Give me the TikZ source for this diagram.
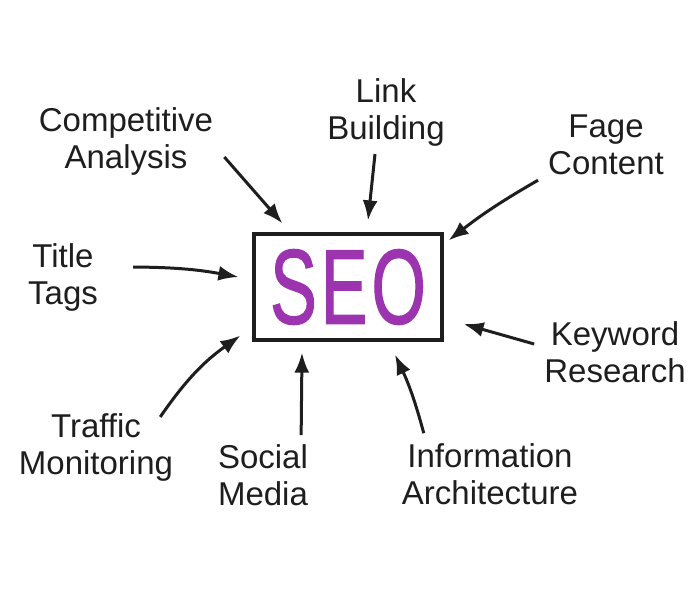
\documentclass[tikz,border=0pt]{standalone}
\usepackage{fontspec}
\setmainfont{Liberation Sans}
\newfontfamily\seofont[FakeBold=1.5]{Liberation Sans}
\usetikzlibrary{arrows.meta}
\definecolor{seolila}{RGB}{156,52,176}
\definecolor{stift}{RGB}{30,30,30}
\tikzset{
  begriff/.style={align=center,inner sep=0pt,text=stift,font=\fontsize{33}{37}\selectfont},
  pfeil/.style={line width=3pt,draw=stift,-{Latex[length=20pt,width=15pt]}}
}
\newcommand{\seobuchst}[1]{\scalebox{0.66}[1]{#1}}
\begin{document}
\begin{tikzpicture}[x=1pt,y=-1pt]
\useasboundingbox[fill=white] (0,0) rectangle (700,600);

% Kasten
\node[draw=stift,line width=3.2pt,minimum width=188pt,minimum height=106pt,text=seolila,font=\fontsize{106}{106}\seofont] (seo) at (348,287) {\seobuchst{S}\hspace{4pt}\seobuchst{E}\hspace{4pt}\seobuchst{O}};

% Begriffe
\node[begriff] (comp) at (126,141) {Competitive\\Analysis};
\node[begriff] (link) at (386,112) {Link\\Building};
\node[begriff] (fage) at (606,145) {Fage\\Content};
\node[begriff] (title) at (63,277) {Title\\Tags};
\node[begriff] (keyw) at (615,352) {Keyword\\Research};
\node[begriff] (traffic) at (96,447) {Traffic\\Monitoring};
\node[begriff] (social) at (263,475) {Social\\Media};
\node[begriff] (info) at (490,474) {Information\\Architecture};

% Koordinaten
\coordinate (tcomp) at ([shift={(30,-9)}]seo.north west);
\coordinate (tlink) at ([shift={(20,-12)}]seo.north);
\coordinate (tfage) at ([shift={(5,8)}]seo.north east);
\coordinate (ttitle) at ([shift={(-14,-10)}]seo.west);
\coordinate (tkeyw) at ([shift={(20,37)}]seo.east);
\coordinate (ttraffic) at ([shift={(-12,-6)}]seo.south west);
\coordinate (tsocial) at ([shift={(-46,11)}]seo.south);
\coordinate (tinfo) at ([shift={(47,13)}]seo.south);

% Pfeile
\draw[pfeil] ([shift={(11,16)}]comp.east) -- (tcomp);
\draw[pfeil] ([shift={(-11,8)}]link.south) -- (tlink);
\draw[pfeil] ([shift={(-10,5)}]fage.south west) to[bend right=4] (tfage);
\draw[pfeil] ([shift={(35,-10)}]title.east) to[bend left=5] (ttitle);
\draw[pfeil] ([shift={(-10,-8)}]keyw.west) -- (tkeyw);
\draw[pfeil] ([shift={(-13,4)}]traffic.north east) to[bend left=10] (ttraffic);
\draw[pfeil] ([shift={(-7,-9)}]social.north east) -- (tsocial);
\draw[pfeil] ([shift={(22,-10)}]info.north west) to[bend right=5] (tinfo);
\end{tikzpicture}
\end{document}
